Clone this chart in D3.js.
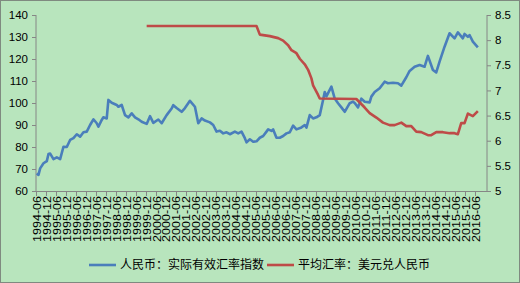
<!DOCTYPE html>
<html><head><meta charset="utf-8">
<script src="https://cdn.jsdelivr.net/npm/d3@7/dist/d3.min.js"></script>
<style>
html,body{margin:0;padding:0;background:#fff;}
svg{display:block;}
text{font-family:"Liberation Sans",Arial,sans-serif;fill:#000;}
</style></head><body>
<svg id="c" width="520" height="283"></svg>
<script>
const seriesNames = ["人民币：实际有效汇率指数", "平均汇率：美元兑人民币"];
const xTickLabels = ["1994-06","1994-12","1995-06","1995-12","1996-06","1996-12","1997-06","1997-12","1998-06","1998-12","1999-06","1999-12","2000-06","2000-12","2001-06","2001-12","2002-06","2002-12","2003-06","2003-12","2004-06","2004-12","2005-06","2005-12","2006-06","2006-12","2007-06","2007-12","2008-06","2008-12","2009-06","2009-12","2010-06","2010-12","2011-06","2011-12","2012-06","2012-12","2013-06","2013-12","2014-06","2014-12","2015-06","2015-12","2016-06"];
const leftTicks = [60,70,80,90,100,110,120,130,140];
const rightTicks = [5,5.5,6,6.5,7,7.5,8,8.5];
// month offset from 1994-06
const reerMonths = [0,1,2,4,6,7,8,10,12,14,16,18,20,22,24,26,28,30,32,34,36,37,39,40,42,43,45,48,49,51,53,55,57,59,61,63,66,68,70,73,75,78,81,82,84,87,89,92,95,97,99,101,104,106,108,110,112,114,116,119,121,123,125,126,128,130,132,134,136,138,139,141,142,144,146,148,150,152,154,156,159,161,162,164,166,168,170,172,173,174,177,179,181,183,185,188,190,191,193,195,197,200,201,203,206,209,211,214,217,219,222,224,227,230,233,235,238,240,242,245,248,251,253,256,257,259,260,262,265];
const reerValues = [68.0,67.3,70.3,72.6,73.6,76.8,77.0,74.5,75.3,74.5,80.1,80.0,83.2,84.0,85.8,84.7,86.7,87.0,90.0,92.6,90.8,89.2,92.3,93.5,93.0,101.4,100.1,99.1,98.3,99.1,94.5,93.5,95.3,93.5,92.6,91.5,90.5,94.0,91.0,92.5,90.8,94.5,97.5,99.0,97.7,96.0,97.7,101.0,98.3,90.8,93.0,92.0,91.2,90.0,87.0,87.4,86.2,86.7,85.8,87.0,86.2,87.0,84.0,82.1,83.5,82.4,82.6,84.2,85.0,87.0,88.0,87.3,88.0,84.2,84.2,85.0,86.2,86.7,89.7,88.0,88.9,90.0,88.8,94.5,93.0,93.5,94.5,101.4,105.0,103.0,107.4,102.0,99.9,98.0,96.0,99.9,100.6,100.0,98.0,102.0,100.6,100.3,102.9,105.0,106.7,109.7,109.0,109.2,109.0,107.9,111.7,114.6,116.5,117.3,116.5,121.4,115.0,113.9,118.8,125.6,131.7,129.4,132.1,129.4,131.4,130.1,130.9,127.9,125.3];
const fxMonths = [66,132,134,140,145,148,151,153,156,158,161,163,165,166,169,170,192,197,200,204,208,212,215,219,222,225,228,231,235,237,240,244,248,251,253,255,257,259,262,265];
const fxValues = [8.28,8.28,8.11,8.08,8.04,7.99,7.90,7.80,7.74,7.63,7.52,7.41,7.24,7.10,6.91,6.84,6.83,6.66,6.55,6.46,6.36,6.31,6.31,6.36,6.29,6.29,6.18,6.17,6.11,6.11,6.17,6.17,6.15,6.15,6.13,6.35,6.35,6.54,6.49,6.59];

const svg = d3.select("#c");
const W = 520, H = 283;
const L = 36, R = 487, T = 15, B = 191;
const nCat = 271;

svg.append("rect").attr("x",0.5).attr("y",0.5).attr("width",W-1).attr("height",H-1)
  .attr("fill","#b8e5bd").attr("stroke","#7f8a80").attr("stroke-width",1);

const x = d3.scaleLinear().domain([-0.5, nCat-0.5]).range([L, R]);
const yL = d3.scaleLinear().domain([60,140]).range([B, T]);
const yR = d3.scaleLinear().domain([5,8.5]).range([B, T]);

const axisColor = "#868686";
// left axis
const gL = svg.append("g").attr("transform",`translate(${L},0)`)
  .call(d3.axisLeft(yL).tickValues(leftTicks).tickSize(4).tickPadding(4));
// right axis
const gR = svg.append("g").attr("transform",`translate(${R},0)`)
  .call(d3.axisRight(yR).tickValues(rightTicks).tickSize(4).tickPadding(4).tickFormat(d3.format("")));
[gL,gR].forEach(g=>{
  g.select(".domain").attr("stroke",axisColor).attr("d", g===gL?`M0,${T}V${B}`:`M0,${T}V${B}`);
  g.selectAll(".tick line").attr("stroke",axisColor);
  g.selectAll(".tick text").style("font-size","11.5px").attr("fill","#000");
});

// bottom axis
const tickIdx = xTickLabels.map((s,i)=>i*6);
const gB = svg.append("g");
gB.append("line").attr("x1",L).attr("x2",R).attr("y1",B+0.5).attr("y2",B+0.5).attr("stroke",axisColor);
gB.selectAll("line.t").data(tickIdx).enter().append("line").attr("class","t")
  .attr("x1",d=>Math.round(x(d-0.5))+0.5).attr("x2",d=>Math.round(x(d-0.5))+0.5)
  .attr("y1",B).attr("y2",B+5).attr("stroke",axisColor);
gB.selectAll("text").data(xTickLabels).enter().append("text")
  .attr("transform",(d,i)=>`translate(${x(i*6)},${B+5}) rotate(-90)`)
  .attr("text-anchor","end").attr("dy","0.35em")
  .attr("textLength",46).attr("lengthAdjust","spacingAndGlyphs")
  .style("font-size","11px").text(d=>d);

// lines
const reer = reerMonths.map((m,i)=>({m, v:reerValues[i]}));
const fx = fxMonths.map((m,i)=>({m, v:fxValues[i]}));
svg.append("path").datum(reer).attr("fill","none").attr("stroke","#4a7ebb").attr("stroke-width",2.6)
  .attr("stroke-linejoin","round")
  .attr("d", d3.line().x(d=>x(d.m)).y(d=>yL(d.v)));
svg.append("path").datum(fx).attr("fill","none").attr("stroke","#be4b48").attr("stroke-width",2.6)
  .attr("stroke-linejoin","round")
  .attr("d", d3.line().x(d=>x(d.m)).y(d=>yR(d.v)));

// legend
const leg = [{c:"#4a7ebb",x:89,name:seriesNames[0]},{c:"#be4b48",x:267,name:seriesNames[1]}];
leg.forEach(l=>{
  svg.append("line").attr("x1",l.x).attr("x2",l.x+27).attr("y1",265).attr("y2",265)
    .attr("stroke",l.c).attr("stroke-width",2.6);
  svg.append("text").attr("x",l.x+31).attr("y",265).attr("dy","0.36em")
    .style("font-family","'Noto Sans CJK SC',sans-serif").style("font-size","12px").text(l.name);
});
</script></body></html>
